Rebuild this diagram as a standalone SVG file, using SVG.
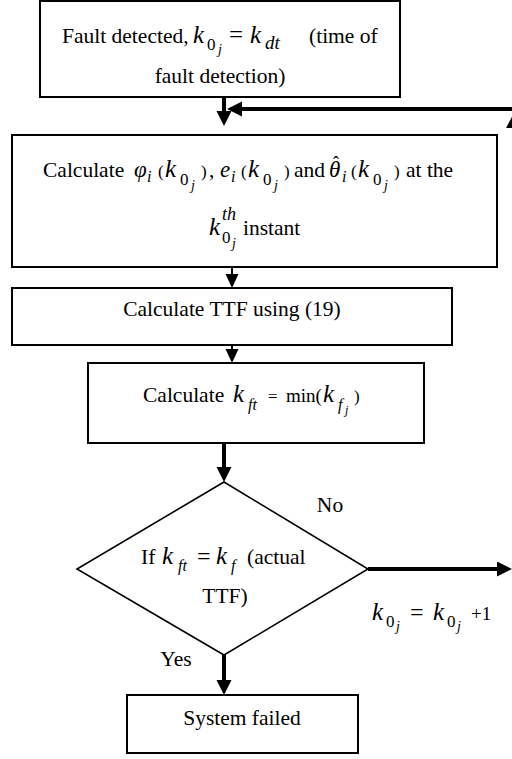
<svg xmlns="http://www.w3.org/2000/svg" width="512" height="759" viewBox="0 0 512 759">
<style>
.box{fill:#fff;stroke:#000;stroke-width:2}
.dia{fill:#fff;stroke:#000;stroke-width:1.6}
.t{font-family:"Liberation Serif","Times New Roman",serif;font-size:21.5px;fill:#000}
.m{font-style:italic;font-size:25px}
.s{font-size:17px}
.sj{font-style:italic;font-size:14px}
.sf{font-style:italic;font-size:16px}
.sm{font-size:17px}
.thick{stroke:#000;stroke-width:4;fill:none}
.thin{stroke:#000;stroke-width:2;fill:none}
</style>
<defs>
<marker id="ah" markerUnits="userSpaceOnUse" markerWidth="16" markerHeight="16" refX="0" refY="7.5" orient="auto" viewBox="0 0 16 16">
<path d="M0,0 L15,7.5 L0,15 z" fill="#000"/>
</marker>
<marker id="ahs" markerUnits="userSpaceOnUse" markerWidth="16" markerHeight="16" refX="0" refY="6.5" orient="auto" viewBox="0 0 16 16">
<path d="M0,0 L14,6.5 L0,13 z" fill="#000"/>
</marker>
</defs>
<g id="connectors">
<line class="thick" x1="224" y1="97" x2="224" y2="111" marker-end="url(#ah)"/>
<line class="thick" x1="512" y1="109" x2="242" y2="109" marker-end="url(#ah)"/>
<polygon points="514,113 506,128 522,128" fill="#000"/>
<line class="thin" x1="232" y1="267" x2="232" y2="274" marker-end="url(#ahs)"/>
<line class="thin" x1="232" y1="345" x2="232" y2="349" marker-end="url(#ahs)"/>
<line class="thick" x1="224" y1="443" x2="224" y2="467" marker-end="url(#ah)"/>
<line class="thick" x1="368" y1="569" x2="497" y2="569" marker-end="url(#ah)"/>
<line class="thick" x1="224" y1="655" x2="224" y2="680" marker-end="url(#ah)"/>
</g>
<g id="n1">
<rect class="box" x="40" y="1" width="360" height="96"/>
<text class="t" y="43"><tspan x="62">Fault detected,</tspan><tspan class="m" x="193">k</tspan><tspan class="s" x="207" y="50">0</tspan><tspan class="sj" x="218" y="54">j</tspan><tspan x="229" y="43" style="font-size:25px">=</tspan><tspan class="m" x="250">k</tspan><tspan class="sf" x="265" y="49" style="font-size:19px">dt</tspan><tspan x="309" y="43">(time of</tspan></text>
<text class="t" x="220" y="83" text-anchor="middle">fault detection)</text>
</g>
<g id="n2">
<rect class="box" x="12" y="135" width="485" height="132"/>
<text class="t" y="177"><tspan x="43">Calculate</tspan><tspan class="m" x="134" style="font-size:23px">φ</tspan><tspan class="sf" x="147" y="182">i</tspan><tspan class="sm" x="158" y="177">(</tspan><tspan class="m" x="165">k</tspan><tspan class="s" x="180" y="185">0</tspan><tspan class="sj" x="191" y="190">j</tspan><tspan class="sm" x="201" y="177">)</tspan><tspan x="209">,</tspan><tspan class="m" x="220" style="font-size:23px">e</tspan><tspan class="sf" x="231" y="182">i</tspan><tspan class="sm" x="241" y="177">(</tspan><tspan class="m" x="248">k</tspan><tspan class="s" x="263" y="185">0</tspan><tspan class="sj" x="274" y="190">j</tspan><tspan class="sm" x="284" y="177">)</tspan><tspan x="294">and</tspan><tspan class="m" x="329" style="font-size:23px">θ</tspan><tspan x="333" y="169" style="font-size:18px">ˆ</tspan><tspan class="sf" x="342" y="182">i</tspan><tspan class="sm" x="351" y="177">(</tspan><tspan class="m" x="358">k</tspan><tspan class="s" x="373" y="185">0</tspan><tspan class="sj" x="384" y="190">j</tspan><tspan class="sm" x="394" y="177">)</tspan><tspan x="406">at the</tspan></text>
<text class="t" y="235"><tspan class="m" x="209">k</tspan><tspan class="sf" x="222" y="220" style="font-size:18px">th</tspan><tspan class="s" x="222" y="243">0</tspan><tspan class="sj" x="232" y="248">j</tspan><tspan x="243" y="235">instant</tspan></text>
</g>
<g id="n3">
<rect class="box" x="12" y="288" width="440" height="57"/>
<text class="t" x="232" y="316" text-anchor="middle">Calculate TTF using (19)</text>
</g>
<g id="n4">
<rect class="box" x="88" y="363" width="336" height="80"/>
<text class="t" y="402"><tspan x="143">Calculate</tspan><tspan class="m" x="233">k</tspan><tspan class="sf" x="248" y="410">ft</tspan><tspan class="sm" x="268" y="402">=</tspan><tspan x="286" y="402" style="font-size:19px">min(</tspan><tspan class="m" x="323">k</tspan><tspan class="sf" x="338" y="410">f</tspan><tspan class="sj" x="345" y="414" style="font-size:12px">j</tspan><tspan class="sm" x="354" y="402">)</tspan></text>
</g>
<g id="n5">
<polygon class="dia" points="224,482 368,569 224,655 77,569"/>
<text class="t" y="564"><tspan x="141">If</tspan><tspan class="m" x="162">k</tspan><tspan class="sf" x="178" y="571">ft</tspan><tspan x="197" y="564" style="font-size:24px">=</tspan><tspan class="m" x="216">k</tspan><tspan class="sf" x="231" y="571">f</tspan><tspan x="247" y="564">(actual</tspan></text>
<text class="t" x="225" y="603" text-anchor="middle">TTF)</text>
</g>
<g id="n6">
<rect class="box" x="127" y="695" width="231" height="58"/>
<text class="t" x="242" y="725" text-anchor="middle">System failed</text>
</g>
<g id="labels">
<text class="t" x="330" y="512" text-anchor="middle">No</text>
<text class="t" x="176" y="666" text-anchor="middle">Yes</text>
<text class="t" y="620"><tspan class="m" x="372">k</tspan><tspan class="s" x="386" y="627">0</tspan><tspan class="sj" x="396" y="631">j</tspan><tspan x="410" y="620" style="font-size:24px">=</tspan><tspan class="m" x="433">k</tspan><tspan class="s" x="447" y="627">0</tspan><tspan class="sj" x="457" y="631">j</tspan><tspan x="471" y="620" style="font-size:19px">+1</tspan></text>
</g>
</svg>
